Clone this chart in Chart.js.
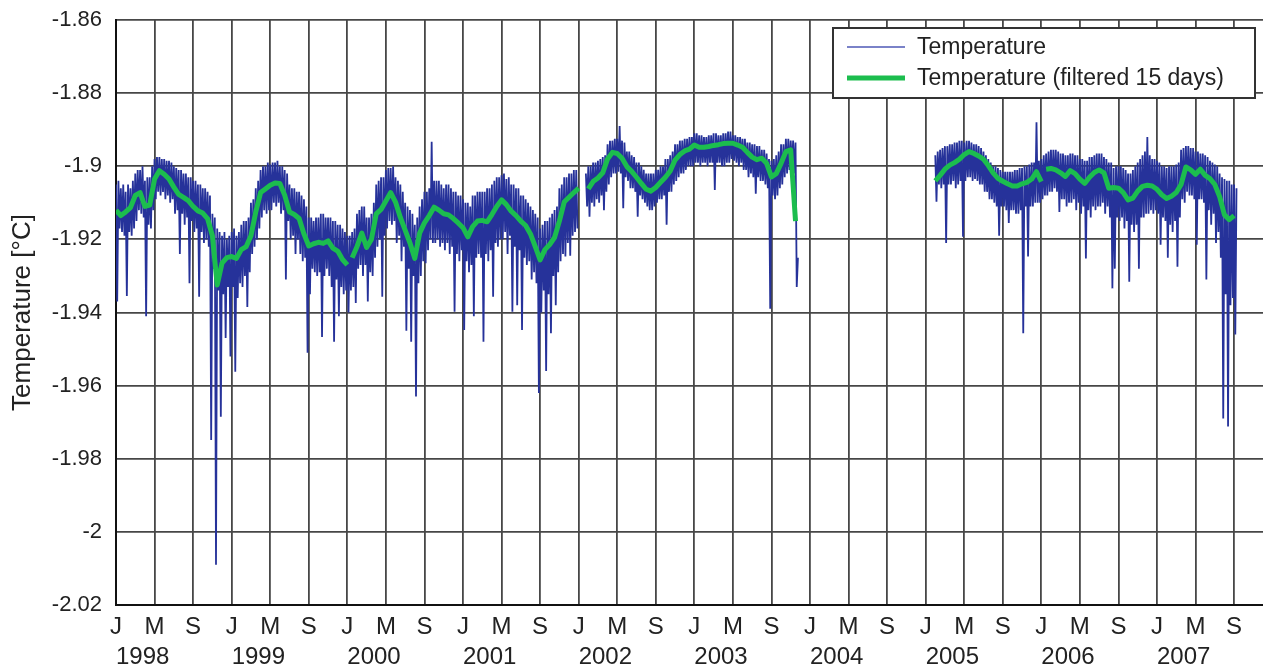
<!DOCTYPE html>
<html>
<head>
<meta charset="utf-8">
<title>Temperature 1998–2007</title>
<script src="https://cdn.jsdelivr.net/npm/chart.js@4.4.1/dist/chart.umd.min.js"></script>
<style>
  html, body { margin: 0; padding: 0; background: #fff; overflow: hidden; }
  canvas { display: block; }
</style>
</head>
<body>
<canvas id="chart" width="1263" height="668"></canvas>
<script>
// Axis labels
const monthLetters = ['J', 'M', 'S'];
const yearLabels = ['1998', '1999', '2000', '2001', '2002', '2003', '2004', '2005', '2006', '2007'];
const yTickLabels = ['-2.02', '-2', '-1.98', '-1.96', '-1.94', '-1.92', '-1.9', '-1.88', '-1.86'];

// Time is counted in months since January 1998.
// Raw temperature [°C], one value every eighth of a month (one row per month), per recording period.
const tempStep = 0.125;
const temp1998Start = 0;
const temp1998 = [
  -1.905,-1.937,-1.904,-1.917,-1.906,-1.918,-1.905,-1.919,
  -1.907,-1.9355,-1.905,-1.918,-1.906,-1.919,-1.904,-1.917,
  -1.902,-1.915,-1.901,-1.912,-1.901,-1.913,-1.900,-1.914,
  -1.904,-1.941,-1.903,-1.916,-1.903,-1.917,-1.900,-1.912,
  -1.898,-1.909,-1.8975,-1.907,-1.8975,-1.908,-1.898,-1.907,
  -1.898,-1.909,-1.8985,-1.908,-1.8985,-1.910,-1.899,-1.909,
  -1.900,-1.913,-1.9005,-1.912,-1.901,-1.924,-1.901,-1.913,
  -1.902,-1.916,-1.902,-1.914,-1.903,-1.932,-1.903,-1.915,
  -1.904,-1.918,-1.904,-1.917,-1.905,-1.9357,-1.905,-1.918,
  -1.906,-1.921,-1.906,-1.920,-1.907,-1.922,-1.908,-1.9749,
  -1.913,-1.928,-1.914,-2.009,-1.917,-1.934,-1.918,-1.9685,
  -1.919,-1.935,-1.918,-1.947,-1.920,-1.933,-1.919,-1.952,
  -1.918,-1.933,-1.917,-1.9562,-1.919,-1.936,-1.918,-1.932,
  -1.916,-1.933,-1.915,-1.930,-1.915,-1.9385,-1.914,-1.929,
  -1.910,-1.924,-1.909,-1.922,-1.906,-1.920,-1.904,-1.917,
  -1.901,-1.914,-1.900,-1.912,-1.900,-1.913,-1.899,-1.912,
  -1.8995,-1.912,-1.899,-1.910,-1.899,-1.911,-1.8985,-1.910,
  -1.900,-1.913,-1.900,-1.912,-1.901,-1.931,-1.902,-1.915,
  -1.905,-1.920,-1.906,-1.919,-1.906,-1.924,-1.907,-1.920,
  -1.907,-1.924,-1.908,-1.926,-1.909,-1.925,-1.911,-1.951,
  -1.914,-1.935,-1.914,-1.928,-1.915,-1.929,-1.914,-1.930,
  -1.914,-1.929,-1.913,-1.9467,-1.913,-1.930,-1.914,-1.928,
  -1.914,-1.930,-1.914,-1.933,-1.915,-1.948,-1.915,-1.931,
  -1.916,-1.941,-1.916,-1.933,-1.917,-1.935,-1.918,-1.934,
  -1.919,-1.940,-1.919,-1.934,-1.918,-1.933,-1.917,-1.9374,
  -1.913,-1.928,-1.912,-1.927,-1.911,-1.930,-1.911,-1.927,
  -1.914,-1.937,-1.914,-1.929,-1.913,-1.930,-1.910,-1.925,
  -1.905,-1.922,-1.904,-1.920,-1.903,-1.9357,-1.903,-1.919,
  -1.901,-1.917,-1.9005,-1.915,-1.9005,-1.916,-1.900,-1.915,
  -1.903,-1.921,-1.904,-1.919,-1.905,-1.926,-1.907,-1.922,
  -1.910,-1.945,-1.911,-1.928,-1.912,-1.948,-1.913,-1.930,
  -1.916,-1.963,-1.914,-1.932,-1.911,-1.930,-1.909,-1.926,
  -1.907,-1.9265,-1.907,-1.923,-1.906,-1.920,-1.8933,-1.921,
  -1.904,-1.921,-1.904,-1.920,-1.904,-1.922,-1.905,-1.921,
  -1.906,-1.923,-1.905,-1.921,-1.905,-1.924,-1.906,-1.922,
  -1.907,-1.9398,-1.907,-1.924,-1.908,-1.926,-1.908,-1.923,
  -1.909,-1.9448,-1.910,-1.926,-1.910,-1.929,-1.911,-1.927,
  -1.908,-1.941,-1.908,-1.925,-1.907,-1.924,-1.907,-1.925,
  -1.907,-1.948,-1.907,-1.924,-1.906,-1.926,-1.906,-1.923,
  -1.905,-1.9357,-1.904,-1.921,-1.903,-1.922,-1.903,-1.920,
  -1.9025,-1.920,-1.902,-1.918,-1.9035,-1.924,-1.903,-1.919,
  -1.905,-1.9398,-1.905,-1.922,-1.906,-1.938,-1.906,-1.923,
  -1.908,-1.9448,-1.908,-1.925,-1.909,-1.927,-1.910,-1.926,
  -1.911,-1.931,-1.912,-1.929,-1.913,-1.932,-1.914,-1.962,
  -1.917,-1.940,-1.916,-1.934,-1.915,-1.956,-1.915,-1.935,
  -1.914,-1.9457,-1.913,-1.930,-1.912,-1.938,-1.911,-1.929,
  -1.906,-1.926,-1.905,-1.924,-1.903,-1.9247,-1.903,-1.921,
  -1.902,-1.9245,-1.902,-1.919,-1.901,-1.918,-1.901,-1.917
];
const temp2002Start = 48.75;
const temp2002 = [
  -1.902,-1.911,
  -1.900,-1.9138,-1.900,-1.910,-1.899,-1.911,-1.899,-1.909,
  -1.8985,-1.910,-1.898,-1.908,-1.8975,-1.912,-1.897,-1.907,
  -1.894,-1.905,-1.893,-1.903,-1.893,-1.902,-1.8925,-1.902,
  -1.8925,-1.9015,-1.889,-1.902,-1.893,-1.9115,-1.8935,-1.903,
  -1.896,-1.904,-1.896,-1.906,-1.897,-1.906,-1.8975,-1.907,
  -1.899,-1.9138,-1.899,-1.908,-1.900,-1.909,-1.901,-1.910,
  -1.902,-1.911,-1.902,-1.912,-1.902,-1.912,-1.902,-1.911,
  -1.901,-1.910,-1.901,-1.909,-1.900,-1.909,-1.900,-1.908,
  -1.898,-1.916,-1.898,-1.907,-1.897,-1.907,-1.896,-1.905,
  -1.894,-1.904,-1.894,-1.903,-1.893,-1.902,-1.893,-1.902,
  -1.8925,-1.901,-1.8925,-1.900,-1.892,-1.900,-1.892,-1.900,
  -1.891,-1.899,-1.891,-1.899,-1.8915,-1.900,-1.8915,-1.899,
  -1.892,-1.899,-1.892,-1.900,-1.8915,-1.899,-1.8915,-1.899,
  -1.891,-1.9065,-1.891,-1.899,-1.8915,-1.899,-1.8915,-1.900,
  -1.891,-1.900,-1.891,-1.899,-1.8905,-1.899,-1.8905,-1.898,
  -1.8915,-1.8985,-1.8915,-1.899,-1.892,-1.900,-1.892,-1.899,
  -1.8925,-1.901,-1.8925,-1.901,-1.8935,-1.903,-1.8935,-1.902,
  -1.894,-1.903,-1.894,-1.9075,-1.8945,-1.903,-1.8945,-1.904,
  -1.8955,-1.904,-1.8955,-1.905,-1.8965,-1.906,-1.898,-1.939,
  -1.8985,-1.908,-1.898,-1.909,-1.897,-1.908,-1.896,-1.906,
  -1.894,-1.905,-1.894,-1.903,-1.8925,-1.902,-1.8925,-1.901,
  -1.893,-1.900,-1.893,-1.902,-1.8935,-1.933,-1.925
];
const temp2005Start = 85;
const temp2005 = [
  -1.897,-1.9097,-1.896,-1.905,-1.8955,-1.906,-1.895,-1.905,
  -1.8945,-1.921,-1.8945,-1.905,-1.894,-1.905,-1.894,-1.904,
  -1.8935,-1.906,-1.8935,-1.905,-1.893,-1.904,-1.893,-1.9193,
  -1.8935,-1.904,-1.893,-1.903,-1.893,-1.903,-1.8935,-1.904,
  -1.894,-1.9035,-1.894,-1.904,-1.8945,-1.905,-1.895,-1.905,
  -1.896,-1.907,-1.897,-1.907,-1.898,-1.909,-1.899,-1.909,
  -1.900,-1.910,-1.900,-1.911,-1.9005,-1.919,-1.901,-1.911,
  -1.9015,-1.911,-1.9015,-1.912,-1.9015,-1.9155,-1.9015,-1.912,
  -1.9015,-1.912,-1.901,-1.913,-1.901,-1.913,-1.9005,-1.912,
  -1.9005,-1.9457,-1.900,-1.911,-1.900,-1.9247,-1.8995,-1.911,
  -1.899,-1.911,-1.899,-1.910,-1.888,-1.910,-1.8985,-1.910,
  -1.898,-1.909,-1.897,-1.908,-1.8965,-1.908,-1.896,-1.907,
  -1.8955,-1.907,-1.8955,-1.906,-1.8955,-1.907,-1.896,-1.9125,
  -1.8965,-1.909,-1.8965,-1.909,-1.897,-1.911,-1.897,-1.910,
  -1.8965,-1.910,-1.8965,-1.909,-1.897,-1.912,-1.897,-1.910,
  -1.898,-1.913,-1.898,-1.911,-1.8985,-1.9252,-1.8985,-1.912,
  -1.8975,-1.914,-1.8975,-1.911,-1.897,-1.912,-1.8965,-1.911,
  -1.8965,-1.911,-1.8965,-1.910,-1.8975,-1.913,-1.898,-1.911,
  -1.899,-1.914,-1.899,-1.9334,-1.9005,-1.928,-1.900,-1.914,
  -1.900,-1.915,-1.900,-1.914,-1.9005,-1.917,-1.901,-1.915,
  -1.902,-1.9316,-1.902,-1.916,-1.901,-1.918,-1.900,-1.916,
  -1.899,-1.928,-1.898,-1.914,-1.897,-1.914,-1.896,-1.913,
  -1.892,-1.913,-1.897,-1.912,-1.898,-1.913,-1.898,-1.912,
  -1.8985,-1.913,-1.899,-1.9215,-1.900,-1.914,-1.900,-1.915,
  -1.9005,-1.925,-1.900,-1.916,-1.900,-1.918,-1.900,-1.915,
  -1.8995,-1.9275,-1.899,-1.914,-1.8955,-1.909,-1.895,-1.910,
  -1.8945,-1.907,-1.8945,-1.908,-1.895,-1.908,-1.895,-1.909,
  -1.896,-1.9215,-1.896,-1.909,-1.8965,-1.909,-1.8965,-1.910,
  -1.897,-1.931,-1.8975,-1.912,-1.8985,-1.916,-1.899,-1.913,
  -1.8995,-1.921,-1.900,-1.918,-1.902,-1.925,-1.903,-1.969,
  -1.9035,-1.935,-1.904,-1.9712,-1.904,-1.938,-1.905,-1.936,
  -1.905,-1.946,-1.906
];

// 15-day filtered temperature [°C], one value every half month, per filtered run.
const filteredStep = 0.5;
const filtered1998Start = 0;
const filtered1998 = [
  -1.912,-1.9135,-1.9125,-1.9113,-1.908,-1.9072,-1.911,-1.9106,-1.9035,-1.9012,
  -1.9022,-1.9035,-1.9057,-1.9077,-1.9085,-1.9094,-1.911,-1.9122,-1.9128,-1.9143,
  -1.919,-1.9325,-1.9265,-1.925,-1.9247,-1.9252,-1.9228,-1.922,-1.919,-1.9125,
  -1.9072,-1.9062,-1.9052,-1.9046,-1.9047,-1.9079,-1.9125,-1.9132,-1.9143,-1.9185,
  -1.9218,-1.9212,-1.9208,-1.9211,-1.9204,-1.9224,-1.9232,-1.9255,-1.927
];
const filtered2000Start = 24.5;
const filtered2000 = [
  -1.925,-1.922,-1.9183,-1.9222,-1.920,-1.913,-1.9118,-1.9095,-1.9072,-1.9098,
  -1.914,-1.9175,-1.921,-1.9252,-1.9183,-1.9155,-1.9135,-1.9112,-1.912,-1.913,
  -1.9133,-1.9143,-1.9155,-1.9168,-1.9193,-1.9165,-1.915,-1.9148,-1.9152,-1.9132,
  -1.911,-1.9092,-1.9105,-1.9123,-1.9135,-1.915,-1.9162,-1.9185,-1.922,-1.9256,
  -1.9228,-1.9214,-1.9195,-1.915,-1.9098,-1.9085,-1.9072,-1.906
];
const filtered2002Start = 49;
const filtered2002 = [
  -1.9062,-1.9042,-1.9032,-1.9018,-1.898,-1.8962,-1.8965,-1.8978,-1.9001,-1.9014,
  -1.903,-1.9047,-1.9063,-1.9068,-1.9058,-1.9044,-1.903,-1.9013,-1.8983,-1.8968,
  -1.8958,-1.8953,-1.8942,-1.8948,-1.8948,-1.8946,-1.8943,-1.8941,-1.8938,-1.8937,
  -1.8937,-1.8942,-1.8948,-1.8962,-1.8975,-1.8982,-1.8978,-1.8992,-1.9029,-1.902,
  -1.8992,-1.896,-1.8955,-1.915
];
const filtered2005Start = 85;
const filtered2005 = [
  -1.904,-1.9025,-1.9008,-1.8997,-1.899,-1.8981,-1.8968,-1.896,-1.8965,-1.8972,
  -1.8981,-1.8998,-1.9018,-1.9033,-1.9041,-1.9048,-1.9054,-1.9054,-1.9048,-1.9044,
  -1.9035,-1.9015,-1.9042
];
const filtered2006Start = 96.5;
const filtered2006 = [
  -1.9008,-1.9006,-1.901,-1.9018,-1.9028,-1.9012,-1.902,-1.9035,-1.9047,-1.903,
  -1.9017,-1.901,-1.9018,-1.906,-1.9058,-1.906,-1.9072,-1.9092,-1.9087,-1.9068,
  -1.9055,-1.9052,-1.9054,-1.9063,-1.9078,-1.9088,-1.9082,-1.9072,-1.905,-1.9002,
  -1.901,-1.9022,-1.9008,-1.9025,-1.9034,-1.905,-1.9083,-1.9133,-1.9146,-1.9135
];

// Turn each run into {x, y} points and join runs with a break (null) between them.
function toPoints(start, step, values) {
  return values.map((v, i) => ({ x: start + i * step, y: v }));
}
function joinRuns(runs) {
  const out = [];
  runs.forEach((run, k) => {
    if (k > 0) out.push({ x: run[0].x - 0.01, y: null });
    out.push(...run);
  });
  return out;
}

const tempData = joinRuns([
  toPoints(temp1998Start, tempStep, temp1998),
  toPoints(temp2002Start, tempStep, temp2002),
  toPoints(temp2005Start, tempStep, temp2005)
]);
const filteredData = joinRuns([
  toPoints(filtered1998Start, filteredStep, filtered1998),
  toPoints(filtered2000Start, filteredStep, filtered2000),
  toPoints(filtered2002Start, filteredStep, filtered2002),
  toPoints(filtered2005Start, filteredStep, filtered2005),
  toPoints(filtered2006Start, filteredStep, filtered2006)
]);

// Ticks: J / M / S every four months, a year label under each January.
const monthTicks = [];
yearLabels.forEach((y, yi) => monthLetters.forEach((m, mi) => monthTicks.push(yi * 12 + mi * 4)));
const yearTicks = yearLabels.map((y, yi) => yi * 12);
const yTickValues = yTickLabels.map(Number);

const FONT = "'Liberation Sans', Arial, Helvetica, sans-serif";
const TEXT = '#222';
const GRID = '#474747';

// Boxed legend drawn inside the plot's upper right corner.
const boxedLegend = {
  id: 'boxedLegend',
  afterDraw(chart) {
    const ctx = chart.ctx;
    const bx = 833, by = 28, bw = 422, bh = 70;
    ctx.save();
    ctx.fillStyle = '#fff';
    ctx.fillRect(bx, by, bw, bh);
    ctx.strokeStyle = '#333';
    ctx.lineWidth = 2;
    ctx.strokeRect(bx, by, bw, bh);
    ctx.font = '23px ' + FONT;
    ctx.textBaseline = 'middle';
    ctx.textAlign = 'left';
    chart.data.datasets.forEach((ds, i) => {
      const y = by + 19 + i * 31;
      ctx.beginPath();
      ctx.moveTo(bx + 14, y);
      ctx.lineTo(bx + 72, y);
      ctx.strokeStyle = ds.legendColor || ds.borderColor;
      ctx.lineWidth = ds.legendWidth || ds.borderWidth;
      ctx.stroke();
      ctx.fillStyle = TEXT;
      ctx.fillText(ds.label, bx + 84, y + 1);
    });
    ctx.restore();
  }
};

new Chart(document.getElementById('chart').getContext('2d'), {
  type: 'line',
  data: {
    datasets: [
      {
        label: 'Temperature',
        data: tempData,
        borderColor: '#26329a',
        legendColor: '#7a82c8',
        legendWidth: 2,
        borderWidth: 1.8,
        pointRadius: 0,
        tension: 0,
        spanGaps: false,
        borderJoinStyle: 'miter',
        order: 2
      },
      {
        label: 'Temperature (filtered 15 days)',
        data: filteredData,
        borderColor: '#1cbd4e',
        borderWidth: 5,
        pointRadius: 0,
        tension: 0,
        spanGaps: false,
        borderJoinStyle: 'round',
        order: 1
      }
    ]
  },
  options: {
    responsive: false,
    animation: false,
    devicePixelRatio: 1,
    layout: { padding: { top: 20, right: 0, bottom: 0, left: 0 } },
    plugins: { legend: { display: false }, tooltip: { enabled: false } },
    scales: {
      x: {
        type: 'linear',
        position: 'bottom',
        min: 0,
        max: 119,
        afterBuildTicks: s => { s.ticks = monthTicks.map(v => ({ value: v })); },
        afterFit: s => { s.height = 33; },
        ticks: {
          autoSkip: false,
          maxRotation: 0,
          padding: 8,
          color: TEXT,
          font: { family: FONT, size: 24 },
          callback: (v, i) => monthLetters[i % monthLetters.length]
        },
        grid: { color: GRID, lineWidth: 1.8, drawTicks: false },
        border: { color: '#111', width: 2 }
      },
      years: {
        type: 'linear',
        position: 'bottom',
        min: 0,
        max: 119,
        afterBuildTicks: s => { s.ticks = yearTicks.map(v => ({ value: v })); },
        afterFit: s => { s.height = 30; },
        ticks: {
          autoSkip: false,
          maxRotation: 0,
          align: 'start',
          padding: 5,
          color: TEXT,
          font: { family: FONT, size: 24 },
          callback: (v, i) => yearLabels[i]
        },
        grid: { display: false, drawTicks: false },
        border: { display: false }
      },
      y: {
        type: 'linear',
        min: -2.02,
        max: -1.86,
        afterBuildTicks: s => { s.ticks = yTickValues.map(v => ({ value: v })); },
        afterFit: s => { s.width = 116; s.paddingTop = 0; s.paddingBottom = 0; },
        ticks: {
          padding: 14,
          color: TEXT,
          font: { family: FONT, size: 22 },
          callback: (v, i) => yTickLabels[i]
        },
        grid: { color: GRID, lineWidth: 1.8, drawTicks: false },
        border: { color: '#111', width: 2 },
        title: {
          display: true,
          text: 'Temperature [°C]',
          color: TEXT,
          font: { family: FONT, size: 26 },
          padding: { top: 7, bottom: 0 }
        }
      }
    }
  },
  plugins: [boxedLegend]
});
</script>
</body>
</html>
